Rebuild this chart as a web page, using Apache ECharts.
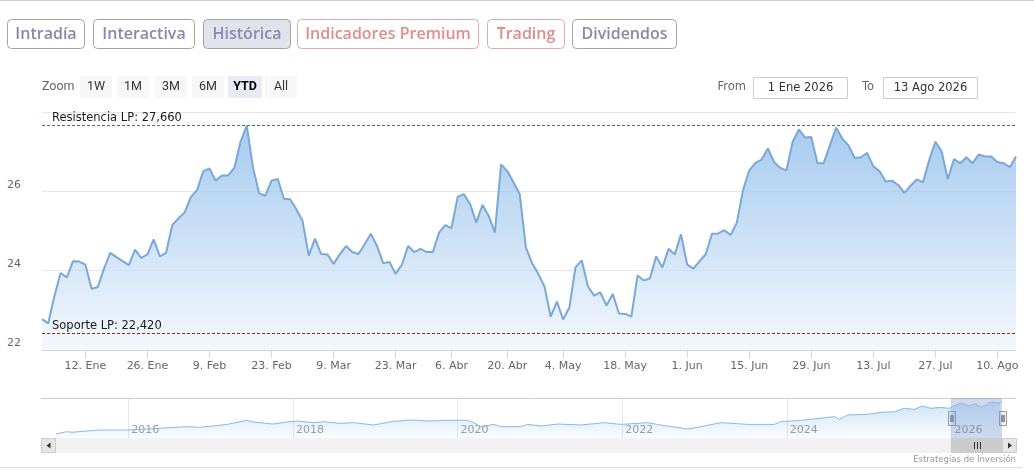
<!DOCTYPE html>
<html><head><meta charset="utf-8">
<script src="https://cdn.jsdelivr.net/npm/echarts@6/dist/echarts.min.js"></script>
<style>html,body{margin:0;padding:0;background:#fff;}#c{width:1034px;height:474px;}</style>
</head><body><div id="c"></div>
<script>
// ---- data: 2026 daily closes (trading days) ----
const dates = ['2025-12-31',
'2026-01-02','2026-01-05','2026-01-06','2026-01-07','2026-01-08','2026-01-09','2026-01-12','2026-01-13','2026-01-14','2026-01-15','2026-01-16','2026-01-19','2026-01-20','2026-01-21','2026-01-22','2026-01-23','2026-01-26','2026-01-27','2026-01-28','2026-01-29','2026-01-30',
'2026-02-02','2026-02-03','2026-02-04','2026-02-05','2026-02-06','2026-02-09','2026-02-10','2026-02-11','2026-02-12','2026-02-13','2026-02-16','2026-02-17','2026-02-18','2026-02-19','2026-02-20','2026-02-23','2026-02-24','2026-02-25','2026-02-26','2026-02-27',
'2026-03-02','2026-03-03','2026-03-04','2026-03-05','2026-03-06','2026-03-09','2026-03-10','2026-03-11','2026-03-12','2026-03-13','2026-03-16','2026-03-17','2026-03-18','2026-03-19','2026-03-20','2026-03-23','2026-03-24','2026-03-25','2026-03-26','2026-03-27','2026-03-30','2026-03-31',
'2026-04-01','2026-04-02','2026-04-07','2026-04-08','2026-04-09','2026-04-10','2026-04-13','2026-04-14','2026-04-15','2026-04-16','2026-04-17','2026-04-20','2026-04-21','2026-04-22','2026-04-23','2026-04-24','2026-04-27','2026-04-28','2026-04-29','2026-04-30',
'2026-05-04','2026-05-05','2026-05-06','2026-05-07','2026-05-08','2026-05-11','2026-05-12','2026-05-13','2026-05-14','2026-05-15','2026-05-18','2026-05-19','2026-05-20','2026-05-21','2026-05-22','2026-05-25','2026-05-26','2026-05-27','2026-05-28','2026-05-29',
'2026-06-01','2026-06-02','2026-06-03','2026-06-04','2026-06-05','2026-06-08','2026-06-09','2026-06-10','2026-06-11','2026-06-12','2026-06-15','2026-06-16','2026-06-17','2026-06-18','2026-06-19','2026-06-22','2026-06-23','2026-06-24','2026-06-25','2026-06-26','2026-06-29','2026-06-30',
'2026-07-01','2026-07-02','2026-07-03','2026-07-06','2026-07-07','2026-07-08','2026-07-09','2026-07-10','2026-07-13','2026-07-14','2026-07-15','2026-07-16','2026-07-17','2026-07-20','2026-07-21','2026-07-22','2026-07-23','2026-07-24','2026-07-27','2026-07-28','2026-07-29','2026-07-30','2026-07-31',
'2026-08-03','2026-08-04','2026-08-05','2026-08-06','2026-08-07','2026-08-10','2026-08-11','2026-08-12','2026-08-13'];

const prices = [22.78,
22.67,23.36,23.94,23.83,24.24,24.23,24.15,23.54,23.59,24.05,24.45,24.34,24.24,24.14,24.53,24.32,24.41,24.79,24.36,24.45,
25.15,25.32,25.47,25.86,26.03,26.51,26.58,26.27,26.40,26.40,26.59,27.25,27.66,26.61,25.95,25.89,26.27,26.31,25.81,25.80,
25.55,25.25,24.38,24.81,24.42,24.41,24.17,24.41,24.62,24.47,24.42,24.66,24.93,24.62,24.19,24.22,23.92,24.15,24.62,24.47,24.55,24.47,
24.47,24.96,25.15,25.07,25.86,25.93,25.68,25.21,25.66,25.38,24.96,26.68,26.51,26.23,25.93,24.58,24.19,23.92,23.60,22.84,
23.22,22.77,23.07,24.09,24.26,23.60,23.37,23.45,23.12,23.41,22.92,22.91,22.84,23.88,23.75,23.81,24.36,24.08,24.55,24.41,
24.92,24.15,24.05,24.24,24.42,24.93,24.94,25.02,24.90,25.21,26.03,26.53,26.72,26.80,27.08,26.74,26.59,26.53,27.25,27.56,27.36,27.37,
26.71,26.71,27.16,27.61,27.33,27.16,26.84,26.86,26.97,26.63,26.51,26.25,26.27,26.16,25.96,26.14,26.30,26.23,26.78,27.25,27.01,26.31,26.81,
26.71,26.86,26.71,26.93,26.88,26.88,26.74,26.71,26.61,26.88];

// ---- data: long history shown in the navigator ----
const histDates = ['2015-02-14','2015-04-01','2015-04-27','2015-07-01','2015-08-29','2016-01-01','2016-05-22','2016-09-16','2016-11-13','2017-03-15','2017-06-10','2017-07-09','2017-10-04','2017-12-05','2018-01-19','2018-04-01','2018-05-15','2018-07-31','2018-09-24','2018-12-24','2019-03-22','2019-06-18','2019-08-19','2019-11-14','2020-02-14','2020-03-11','2020-04-13','2020-06-10','2020-07-09','2020-10-05','2020-11-07','2021-01-05','2021-03-22','2021-07-02','2021-10-12','2021-12-28','2022-04-23','2022-06-21','2022-10-19','2022-12-16','2023-03-14','2023-07-13','2023-11-06','2023-12-06','2024-02-17','2024-06-17','2024-07-31','2024-08-22','2024-09-27','2024-12-24','2025-02-24','2025-04-23','2025-06-06','2025-07-20','2025-08-26','2025-10-01','2025-11-18','2025-12-16'];
const histPrices = [3.0,4.7,4.3,5.25,6.0,6.0,7.3,8.5,8.0,10.2,13.3,12.0,10.5,12.0,12.75,11.5,12.2,11.0,11.5,9.75,12.5,13.5,12.75,13.3,13.3,11.5,8.5,10.2,8.5,8.5,10.2,9.0,10.5,9.75,11.5,10.2,11.5,9.75,6.75,8.5,11.5,10.2,10.2,12.2,13.0,15.2,16.0,14.0,17.25,17.8,19.3,19.7,22.3,21.5,24.0,22.3,23.0,22.3];

// ---- tick labels ----
const tickLabels = [['2026-01-12','12. Ene'],['2026-01-26','26. Ene'],['2026-02-09','9. Feb'],['2026-02-23','23. Feb'],['2026-03-09','9. Mar'],['2026-03-23','23. Mar'],['2026-04-07','6. Abr'],['2026-04-20','20. Abr'],['2026-05-04','4. May'],['2026-05-18','18. May'],['2026-06-01','1. Jun'],['2026-06-15','15. Jun'],['2026-06-29','29. Jun'],['2026-07-13','13. Jul'],['2026-07-27','27. Jul'],['2026-08-10','10. Ago']];
const navYearTicks = ['2016-01-01','2018-01-01','2020-01-01','2022-01-01','2024-01-01','2026-01-01'];
const resistance = 27.66;
const support = 22.42;

// ---- UI text ----
const tabs = [['Intradía','p'],['Interactiva','p'],['Histórica','sel'],['Indicadores Premium','r'],['Trading','r'],['Dividendos','p']];
const zoomButtons = ['1W','1M','3M','6M','YTD','All'];
const fromText = '1 Ene 2026', toText = '13 Ago 2026';

// ---- layout (not data) ----
const tabBoxes = [[7,77],[93,101],[203,87],[297,181],[487,77],[572,104]];
const zoomBoxes = [[80,32],[117,32],[155,32],[192,32],[228,34],[265,32]];

const tickMap = {}; tickLabels.forEach(t => { tickMap[t[0]] = t[1]; });
const fmt = v => v.toFixed(3).replace('.', ',');
const toDate = s => echarts.time.parse(s).getTime();

const chart = echarts.init(document.getElementById('c'), null, {renderer: 'canvas'});
const navData = histDates.map((d, i) => [d, histPrices[i]]).concat(dates.map((d, i) => [d, prices[i]]));

const option = {
  animation: false,
  backgroundColor: '#fff',
  grid: [
    {left: 42, right: 18, top: 112, bottom: 124},
    {left: 56, right: 32, top: 398, height: 40}
  ],
  xAxis: [
    {type: 'category', gridIndex: 0, data: dates, boundaryGap: false,
     axisLine: {lineStyle: {color: '#ccd6eb'}},
     axisTick: {interval: (i, v) => v in tickMap, length: 8, lineStyle: {color: '#ccd6eb'}},
     axisLabel: {interval: (i, v) => v in tickMap, formatter: v => tickMap[v] || '', color: '#666', fontSize: 11, fontFamily: 'DejaVu Sans', margin: 11},
     splitLine: {show: false}},
    {type: 'time', gridIndex: 1, min: 'dataMin', max: 'dataMax',
     axisLine: {show: false},
     axisTick: {show: false, customValues: navYearTicks.map(toDate)},
     axisLabel: {inside: true, customValues: navYearTicks.map(toDate), formatter: '{yyyy}', color: '#999', fontSize: 11, fontFamily: 'DejaVu Sans', align: 'left', margin: 2, padding: [0, 0, 0, 3]},
     splitLine: {show: true, lineStyle: {color: '#e6e6e6'}}}
  ],
  yAxis: [
    {type: 'value', gridIndex: 0, min: 22, max: 28, interval: 2,
     axisLine: {show: false}, axisTick: {show: false},
     axisLabel: {color: '#666', fontSize: 11, fontFamily: 'DejaVu Sans', margin: 21, showMaxLabel: false, verticalAlign: 'bottom', lineHeight: 13, padding: [0, 0, 0, 0]},
     splitLine: {lineStyle: {color: '#e6e6e6'}}},
    {type: 'value', gridIndex: 1, min: 0, max: 30, show: false, splitLine: {show: false}}
  ],
  series: [
    {type: 'line', xAxisIndex: 0, yAxisIndex: 0, data: prices, symbol: 'none', silent: true,
     lineStyle: {color: '#7aa8d8', width: 2},
     areaStyle: {color: {type: 'linear', x: 0, y: 0, x2: 0, y2: 1, colorStops: [{offset: 0, color: '#7fb4e8'}, {offset: 1, color: '#eff5fc'}]}},
     markLine: {silent: true, symbol: 'none',
       label: {position: 'insideStartTop', color: '#1a1a1a', fontSize: 11.5, fontFamily: 'DejaVu Sans', distance: [10, 1]},
       data: [
         {yAxis: resistance, lineStyle: {color: '#3f7f3f', type: [3, 2], width: 1}, label: {formatter: 'Resistencia LP: ' + fmt(resistance)}},
         {yAxis: support, lineStyle: {color: '#9a2424', type: [3, 2], width: 1}, label: {formatter: 'Soporte LP: ' + fmt(support)}}
       ]}},
    {type: 'line', xAxisIndex: 1, yAxisIndex: 1, data: navData, symbol: 'none', silent: true,
     lineStyle: {color: '#8db8e3', width: 1},
     areaStyle: {color: {type: 'linear', x: 0, y: 0, x2: 0, y2: 1, colorStops: [{offset: 0, color: 'rgba(124,181,236,0.55)'}, {offset: 1, color: 'rgba(124,181,236,0.05)'}]}},
     markArea: {silent: true, itemStyle: {color: 'rgba(102,133,194,0.3)'},
       data: [[{xAxis: dates[0]}, {xAxis: dates[dates.length - 1]}]]}}
  ]
};
chart.setOption(option);

// ---- decorations (buttons, navigator handles, scrollbar) ----
const g = [];
g.push({type: 'line', shape: {x1: 0, y1: 0.5, x2: 1034, y2: 0.5}, style: {stroke: '#d0d0d0', lineWidth: 1}});
g.push({type: 'line', shape: {x1: 0, y1: 467.5, x2: 1022, y2: 467.5}, style: {stroke: '#dcdcdc', lineWidth: 1}});
tabs.forEach((t, i) => {
  const [x, w] = tabBoxes[i];
  const red = t[1] === 'r', sel = t[1] === 'sel';
  g.push({type: 'rect', shape: {x: x + 0.5, y: 19.5, width: w, height: 29, r: 4},
    style: {fill: sel ? '#e2e2ea' : '#fff', stroke: red ? '#e6a9a9' : '#a3a3a8', lineWidth: 1}});
  g.push({type: 'text', x: x + w / 2 + 0.5, y: 34.5, style: {text: t[0], fill: red ? '#df8d8d' : (sel ? '#8d87b6' : '#8c87aa'),
    fontSize: 16, fontWeight: 600, fontFamily: 'Open Sans', textAlign: 'center', textVerticalAlign: 'middle'}});
});
g.push({type: 'text', x: 42, y: 87, style: {text: 'Zoom', fill: '#666', fontSize: 12.5, fontFamily: 'Roboto', textAlign: 'left', textVerticalAlign: 'middle'}});
zoomButtons.forEach((b, i) => {
  const [x, w] = zoomBoxes[i];
  const sel = b === 'YTD';
  g.push({type: 'rect', shape: {x: x, y: 76, width: w, height: 22, r: 2}, style: {fill: sel ? '#e6ebf5' : '#f7f7f7'}});
  g.push({type: 'text', x: x + w / 2, y: 87, style: {text: b, fill: sel ? '#000' : '#333', fontSize: 12.5, fontWeight: sel ? 'bold' : 'normal', fontFamily: 'Roboto', textAlign: 'center', textVerticalAlign: 'middle'}});
});
g.push({type: 'text', x: 746, y: 87.5, style: {text: 'From', fill: '#666', fontSize: 11.5, fontFamily: 'DejaVu Sans', textAlign: 'right', textVerticalAlign: 'middle'}});
g.push({type: 'rect', shape: {x: 753.5, y: 77.5, width: 94, height: 21}, style: {fill: '#fff', stroke: '#cccccc', lineWidth: 1}});
g.push({type: 'text', x: 800.5, y: 88, style: {text: fromText, fill: '#333', fontSize: 11.5, fontFamily: 'DejaVu Sans', textAlign: 'center', textVerticalAlign: 'middle'}});
g.push({type: 'text', x: 874, y: 87.5, style: {text: 'To', fill: '#666', fontSize: 11.5, fontFamily: 'DejaVu Sans', textAlign: 'right', textVerticalAlign: 'middle'}});
g.push({type: 'rect', shape: {x: 883.5, y: 77.5, width: 94, height: 21}, style: {fill: '#fff', stroke: '#cccccc', lineWidth: 1}});
g.push({type: 'text', x: 930.5, y: 88, style: {text: toText, fill: '#333', fontSize: 11.5, fontFamily: 'DejaVu Sans', textAlign: 'center', textVerticalAlign: 'middle'}});

// navigator outline + scrollbar
const navTop = 398, navH = 40, sbH = 15;
const xL = chart.convertToPixel({xAxisIndex: 1}, toDate(dates[0]));
const xR = chart.convertToPixel({xAxisIndex: 1}, toDate(dates[dates.length - 1]));
g.push({type: 'line', shape: {x1: 41, y1: navTop + 0.5, x2: 1016, y2: navTop + 0.5}, style: {stroke: '#cccccc', lineWidth: 1}});
g.push({type: 'rect', shape: {x: 41, y: navTop + navH, width: 975, height: sbH}, style: {fill: '#f2f2f2'}});
g.push({type: 'rect', shape: {x: 41.5, y: navTop + navH + 0.5, width: 14, height: sbH - 1}, style: {fill: '#e6e6e6', stroke: '#cccccc', lineWidth: 1}});
g.push({type: 'polygon', shape: {points: [[46.5, 445.5], [50.5, 442.5], [50.5, 448.5]]}, style: {fill: '#333'}});
g.push({type: 'rect', shape: {x: xR + 0.5, y: navTop + navH + 0.5, width: 14, height: sbH - 1}, style: {fill: '#e6e6e6', stroke: '#cccccc', lineWidth: 1}});
g.push({type: 'polygon', shape: {points: [[xR + 10, 445.5], [xR + 6, 442.5], [xR + 6, 448.5]]}, style: {fill: '#333'}});
g.push({type: 'rect', shape: {x: xL, y: navTop + navH + 0.5, width: xR - xL, height: sbH - 1}, style: {fill: '#cccccc', stroke: '#cccccc', lineWidth: 1}});
const mid = (xL + xR) / 2;
[-3, 0, 3].forEach(d => g.push({type: 'line', shape: {x1: Math.round(mid + d) + 0.5, y1: 442, x2: Math.round(mid + d) + 0.5, y2: 449}, style: {stroke: '#333', lineWidth: 1}}));
[xL, xR].forEach(x => {
  const hx = Math.round(x - 3.5) + 0.5;
  g.push({type: 'rect', shape: {x: hx, y: 411.5, width: 7, height: 14}, style: {fill: '#f2f2f2', stroke: '#999', lineWidth: 1}});
  g.push({type: 'line', shape: {x1: hx + 2.5, y1: 415, x2: hx + 2.5, y2: 422}, style: {stroke: '#333', lineWidth: 1}});
  g.push({type: 'line', shape: {x1: hx + 4.5, y1: 415, x2: hx + 4.5, y2: 422}, style: {stroke: '#333', lineWidth: 1}});
});
g.push({type: 'text', x: 1016, y: 460, style: {text: 'Estrategias de Inversión', fill: '#999', fontSize: 8.5, fontFamily: 'DejaVu Sans', textAlign: 'right', textVerticalAlign: 'middle'}});
chart.setOption({graphic: g});
</script></body></html>
